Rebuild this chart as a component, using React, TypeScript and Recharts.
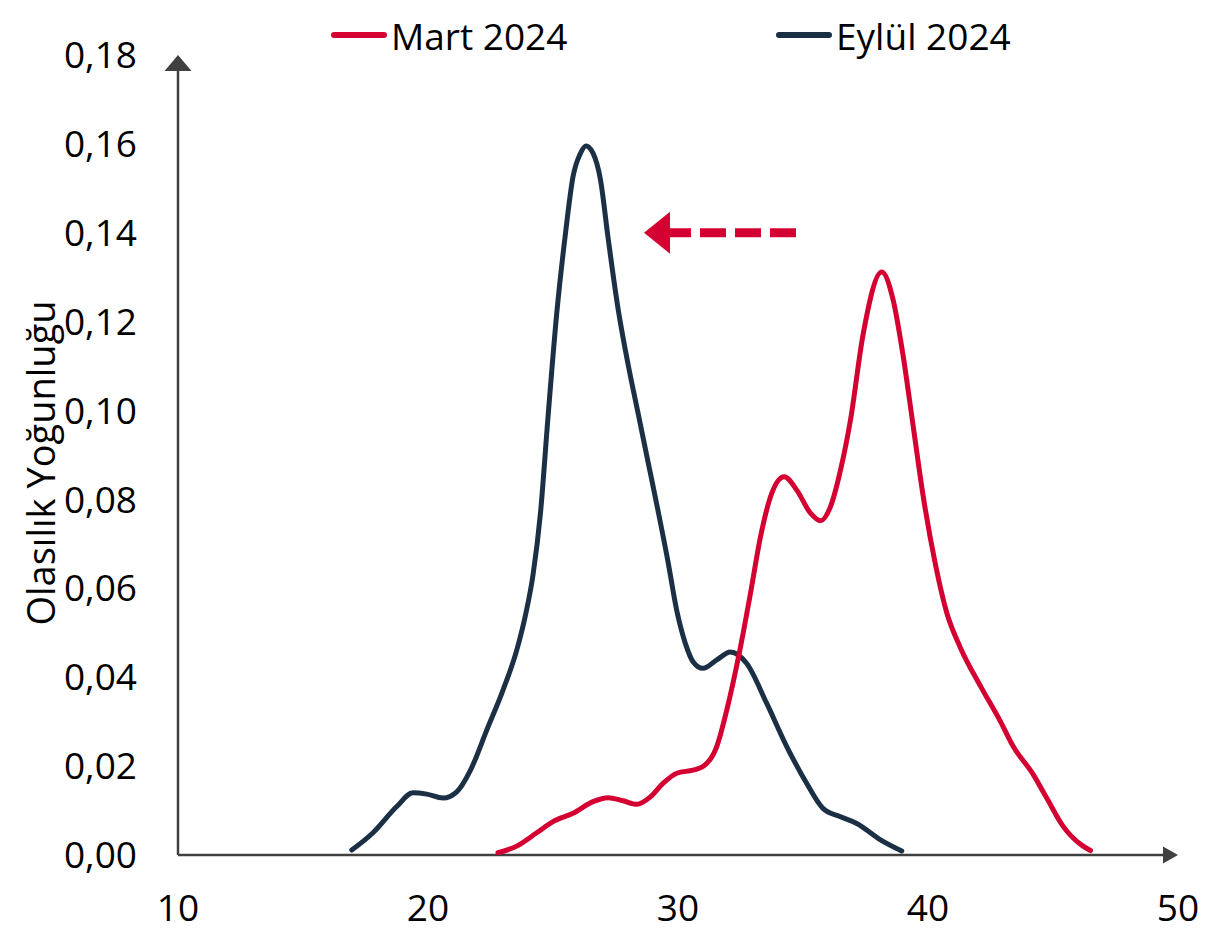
import React from "react"
import {
  LineChart,
  Line,
  XAxis,
  YAxis,
  ReferenceLine,
} from "recharts"

// x values (inflation expectation) and density values for each survey
const martX = [
  22.8, 23.55, 24.35, 25.0, 25.8, 26.6, 27.2, 27.8, 28.35, 28.9, 29.4, 29.95, 30.6, 31.0,
  31.55, 31.95, 32.45, 32.9, 33.3, 33.7, 34.25, 34.75, 35.3, 35.7, 36.1, 36.5, 36.9, 37.4,
  38.15, 38.6, 39.0, 39.4, 39.8, 40.3, 40.75, 41.3, 42.1, 42.9, 43.4, 44.2, 44.75, 45.4,
  46.1, 46.5,
]
const martY = [
  0.0005, 0.002, 0.005, 0.0075, 0.0094, 0.012, 0.0129, 0.0122, 0.0114, 0.0131, 0.0161, 0.0184,
  0.0191, 0.0199, 0.0244, 0.0326, 0.0454, 0.0589, 0.0716, 0.0806, 0.0851, 0.0821, 0.0769,
  0.0752, 0.0784, 0.0866, 0.0979, 0.117, 0.1312, 0.125, 0.1125, 0.0968, 0.081, 0.0653, 0.0545,
  0.0466, 0.038, 0.03, 0.0245, 0.0182, 0.0128, 0.0065, 0.0024, 0.001,
]

const eylulX = [
  16.95, 17.8, 18.75, 19.4, 19.95, 20.6, 21.15, 21.7, 22.35, 23.0, 23.55, 23.9, 24.2, 24.5,
  24.8, 25.15, 25.5, 25.8, 26.1, 26.32, 26.6, 26.9, 27.2, 27.6, 28.0, 28.4, 28.8, 29.2,
  29.6, 29.95, 30.3, 30.6, 31.0, 31.55, 32.1, 32.75, 33.55, 34.35, 35.15, 35.8, 36.5, 37.15,
  38.1, 38.95,
]
const eylulY = [
  0.0011, 0.005, 0.0109, 0.014, 0.0137, 0.0128, 0.0142, 0.0191, 0.0281, 0.0371, 0.0461,
  0.054, 0.063, 0.077, 0.0985, 0.1219, 0.1399, 0.1526, 0.1579, 0.1595, 0.1579, 0.1519,
  0.139, 0.123, 0.1105, 0.0995, 0.0885, 0.0775, 0.066, 0.055, 0.0475, 0.0435, 0.042, 0.0439,
  0.0457, 0.0431, 0.0341, 0.0244, 0.0161, 0.0105, 0.0086, 0.0071, 0.0034, 0.0009,
]

const xTicks = [10, 20, 30, 40, 50]
const yTicks = [0, 0.02, 0.04, 0.06, 0.08, 0.1, 0.12, 0.14, 0.16, 0.18]

// the "shift" arrow, in data units
const shiftFrom = { x: 34.72, y: 0.14 }
const shiftTo = { x: 28.64, y: 0.14 }

const RED = "#d50032"
const NAVY = "#1b3045"
const AXIS = "#404040"
const FONT = "'Open Sans', sans-serif"

const martData = martX.map((x, i) => ({ x, y: martY[i] }))
const eylulData = eylulX.map((x, i) => ({ x, y: eylulY[i] }))

const formatY = (v: number) => v.toFixed(2).replace(".", ",")

// axis line that ends in a filled triangle
const arrowAxis = (len: number, half: number) => (props: any) => {
  const { x1, y1, x2, y2 } = props
  const dx = x2 - x1
  const dy = y2 - y1
  const d = Math.sqrt(dx * dx + dy * dy) || 1
  const ux = dx / d
  const uy = dy / d
  const bx = x2 - ux * len
  const by = y2 - uy * len
  const px = -uy * half
  const py = ux * half
  return (
    <g>
      <line x1={x1} y1={y1} x2={bx} y2={by} stroke={AXIS} strokeWidth={2.5} />
      <polygon
        points={`${x2},${y2} ${bx + px},${by + py} ${bx - px},${by - py}`}
        fill={AXIS}
      />
    </g>
  )
}

const shiftArrow = (props: any) => {
  const { x1, y1, x2, y2 } = props
  const head = 26
  return (
    <g>
      <line
        x1={x1}
        y1={y1}
        x2={x2 + head}
        y2={y2}
        stroke={RED}
        strokeWidth={9}
        strokeDasharray="26 9"
      />
      <polygon
        points={`${x2},${y2} ${x2 + head},${y2 - 21} ${x2 + head},${y2 + 21}`}
        fill={RED}
      />
    </g>
  )
}

const legendItems = [
  { name: "Mart 2024", color: RED, left: 331 },
  { name: "Eylül 2024", color: NAVY, left: 776 },
]

export default function App() {
  return (
    <div
      style={{
        position: "absolute",
        left: 0,
        top: 0,
        width: 1229,
        height: 938,
        background: "#fff",
        fontFamily: FONT,
      }}
    >
      <LineChart
        width={1229}
        height={938}
        margin={{ top: 55, right: 51, left: 0, bottom: 0 }}
      >
        <XAxis
          type="number"
          dataKey="x"
          domain={[10, 50]}
          ticks={xTicks}
          axisLine={false}
          tickLine={false}
          tickSize={0}
          tickMargin={40}
          height={83}
          tick={{ fill: "#000", fontSize: 37, fontFamily: FONT }}
          allowDataOverflow
        />
        <YAxis
          type="number"
          domain={[0, 0.18]}
          ticks={yTicks}
          width={178}
          axisLine={false}
          tickLine={false}
          tickSize={0}
          tickMargin={41}
          tickFormatter={formatY}
          tick={{ fill: "#000", fontSize: 37, fontFamily: FONT }}
          allowDataOverflow
          label={{
            content: () => (
              <text
                x={40}
                y={463}
                transform="rotate(-90 40 463)"
                textAnchor="middle"
                dominantBaseline="central"
                fontFamily={FONT}
                fontSize={38}
                fontWeight={500}
                fill="#000"
              >
                Olasılık Yoğunluğu
              </text>
            ),
          }}
        />

        <ReferenceLine
          segment={[{ x: 10, y: 0 }, { x: 50, y: 0 }]}
          ifOverflow="visible"
          shape={arrowAxis(15, 8.5)}
        />
        <ReferenceLine
          segment={[{ x: 10, y: 0 }, { x: 10, y: 0.18 }]}
          ifOverflow="visible"
          shape={arrowAxis(16, 13.5)}
        />

        <Line
          data={eylulData}
          dataKey="y"
          type="monotone"
          stroke={NAVY}
          strokeWidth={5}
          strokeLinecap="round"
          dot={false}
          activeDot={false}
          isAnimationActive={false}
        />
        <Line
          data={martData}
          dataKey="y"
          type="monotone"
          stroke={RED}
          strokeWidth={5}
          strokeLinecap="round"
          dot={false}
          activeDot={false}
          isAnimationActive={false}
        />

        <ReferenceLine
          segment={[shiftFrom, shiftTo]}
          ifOverflow="visible"
          shape={shiftArrow}
        />
      </LineChart>

      {legendItems.map((item) => (
        <div
          key={item.name}
          style={{
            position: "absolute",
            left: item.left,
            top: 8,
            height: 54,
            display: "flex",
            alignItems: "center",
            fontSize: 37,
            color: "#000",
            whiteSpace: "nowrap",
          }}
        >
          <span
            style={{
              display: "inline-block",
              width: 56,
              height: 6,
              borderRadius: 3,
              background: item.color,
              marginRight: 4,
            }}
          />
          <span>{item.name}</span>
        </div>
      ))}
    </div>
  )
}
